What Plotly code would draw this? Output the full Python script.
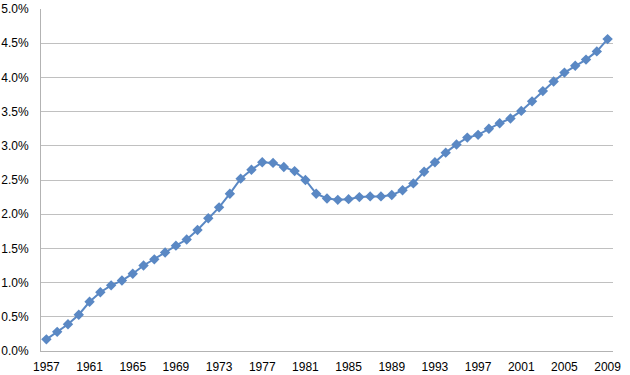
import plotly.graph_objects as go

years = list(range(1957, 2010))
rates = [0.17, 0.28, 0.39, 0.53, 0.72, 0.86, 0.96, 1.03, 1.13, 1.25,
         1.34, 1.44, 1.54, 1.63, 1.77, 1.94, 2.10, 2.30, 2.52, 2.65,
         2.76, 2.75, 2.69, 2.63, 2.50, 2.30, 2.23, 2.21, 2.22, 2.25,
         2.26, 2.26, 2.28, 2.35, 2.45, 2.62, 2.76, 2.90, 3.02, 3.12,
         3.16, 3.25, 3.33, 3.40, 3.51, 3.65, 3.80, 3.94, 4.07, 4.17,
         4.26, 4.38, 4.56]
tick_years = list(range(1957, 2010, 4))
values = [r / 100 for r in rates]

color = "#5A88C4"

fig = go.Figure(go.Scatter(
    x=years, y=values, mode="lines+markers",
    line=dict(color=color, width=2),
    marker=dict(symbol="diamond", size=8, color=color),
    hoverinfo="x+y",
    cliponaxis=False,
))

fig.update_layout(
    width=630, height=375,
    margin=dict(l=41, r=17, t=9, b=24, autoexpand=False),
    paper_bgcolor="white", plot_bgcolor="white",
    showlegend=False,
    font=dict(family="Liberation Sans, Arial, sans-serif", size=12, color="black"),
)
fig.update_xaxes(
    range=[1956.5, 2009.5], automargin=False,
    tickmode="array", tickvals=tick_years, ticktext=[str(y) for y in tick_years],
    showgrid=False, showline=True, linecolor="#b3b3b3", linewidth=1,
    ticks="", zeroline=False, ticklabelstandoff=5,
)
fig.update_yaxes(
    range=[0, 0.05], dtick=0.005, tickformat=".1%", automargin=False,
    showgrid=True, gridcolor="#c0c0c0", gridwidth=1,
    showline=True, linecolor="#b3b3b3", linewidth=1,
    zeroline=False, ticks="", ticklabelstandoff=9,
)

fig.write_html("out.html", config={"displayModeBar": False},
               post_script="document.body.style.margin='0';document.body.style.overflow='hidden';")
